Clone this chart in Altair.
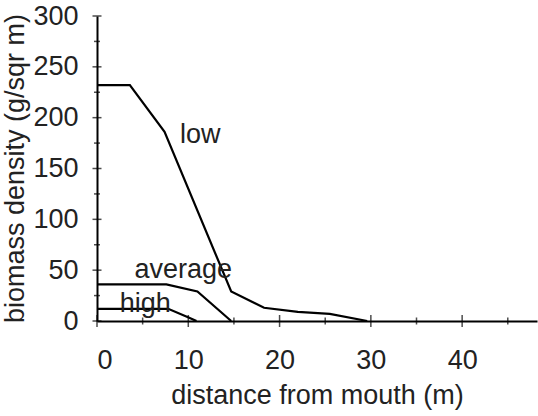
import altair as alt
import pandas as pd

low_x = [0, 3.6, 7.4, 14.7, 18.3, 22, 25.5, 29.6]
low_y = [232, 232, 186, 29, 13, 9, 7, 0]
avg_x = [0, 7.6, 11, 14.7]
avg_y = [36, 36, 29, 0]
high_x = [0, 7.8, 10.1, 10.9]
high_y = [12, 12, 3.3, 0]

label_text = ["low", "average", "high"]
label_x = [9.1, 4.1, 2.5]
label_y = [183, 50, 17]

x_major = [0, 10, 20, 30, 40]
x_minor = [5, 15, 25, 35, 45]
y_major = [0, 50, 100, 150, 200, 250, 300]
y_minor = [25, 75, 125, 175, 225, 275]

rows = []
for name, xs, ys in [("low", low_x, low_y), ("average", avg_x, avg_y), ("high", high_x, high_y)]:
    for i, (a, b) in enumerate(zip(xs, ys)):
        rows.append({"series": name, "i": i, "x": a, "y": b})
df = pd.DataFrame(rows)
labels = pd.DataFrame({"t": label_text, "x": label_x, "y": label_y})

FONT = "Liberation Sans"
FS = 27
xs = alt.Scale(domain=[0, 48.2], nice=False, zero=False)
ys = alt.Scale(domain=[0, 300], nice=False)

xenc = alt.X("x:Q", scale=xs, axis=alt.Axis(
    values=x_major, title="distance from mouth (m)", ticks=False, tickSize=0,
    labelPadding=39, labelBaseline="middle", titleX=220, titleY=74,
    titleBaseline="middle", titleAlign="center"))
yenc = alt.Y("y:Q", scale=ys, axis=alt.Axis(
    values=y_major, title="biomass density (g/sqr m)", ticks=False, tickSize=0,
    labelPadding=19, titleX=-82, titleY=152, titleBaseline="middle",
    titleAlign="center"))

lines = alt.Chart(df).mark_line(color="black", strokeWidth=2.2).encode(
    x=xenc, y=yenc, detail="series:N", order="i:Q")

texts = alt.Chart(labels).mark_text(align="left", baseline="middle", font=FONT,
                                     fontSize=FS, color="#222").encode(
    x=alt.X("x:Q", scale=xs), y=alt.Y("y:Q", scale=ys), text="t:N")

def vt(vals, size):
    d = pd.DataFrame({"x": vals, "y": [0] * len(vals)})
    return alt.Chart(d).mark_tick(orient="vertical", size=size, thickness=1.5,
                                  color="black").encode(
        x=alt.X("x:Q", scale=xs), y=alt.Y("y:Q", scale=ys))

def ht(vals, size):
    d = pd.DataFrame({"y": vals, "x": [0] * len(vals)})
    return alt.Chart(d).mark_tick(orient="horizontal", size=size, thickness=1.5,
                                  color="black").encode(
        x=alt.X("x:Q", scale=xs), y=alt.Y("y:Q", scale=ys))

chart = alt.layer(
    lines, texts, vt(x_major, 12), vt(x_minor, 7), ht(y_major, 9), ht(y_minor, 6)
).properties(
    width=440, height=305,
    autosize=alt.AutoSizeParams(type="none"),
    padding={"left": 97, "top": 16, "right": 1, "bottom": 95},
    background="white",
).configure_view(stroke=None).configure_axis(
    grid=False, domainColor="black", domainWidth=2,
    labelFont=FONT, labelFontSize=FS, labelColor="#222",
    titleFont=FONT, titleFontSize=FS, titleColor="#222", titleFontWeight="normal",
)

chart.save("out.html", embed_options={"renderer": "svg", "actions": False})
